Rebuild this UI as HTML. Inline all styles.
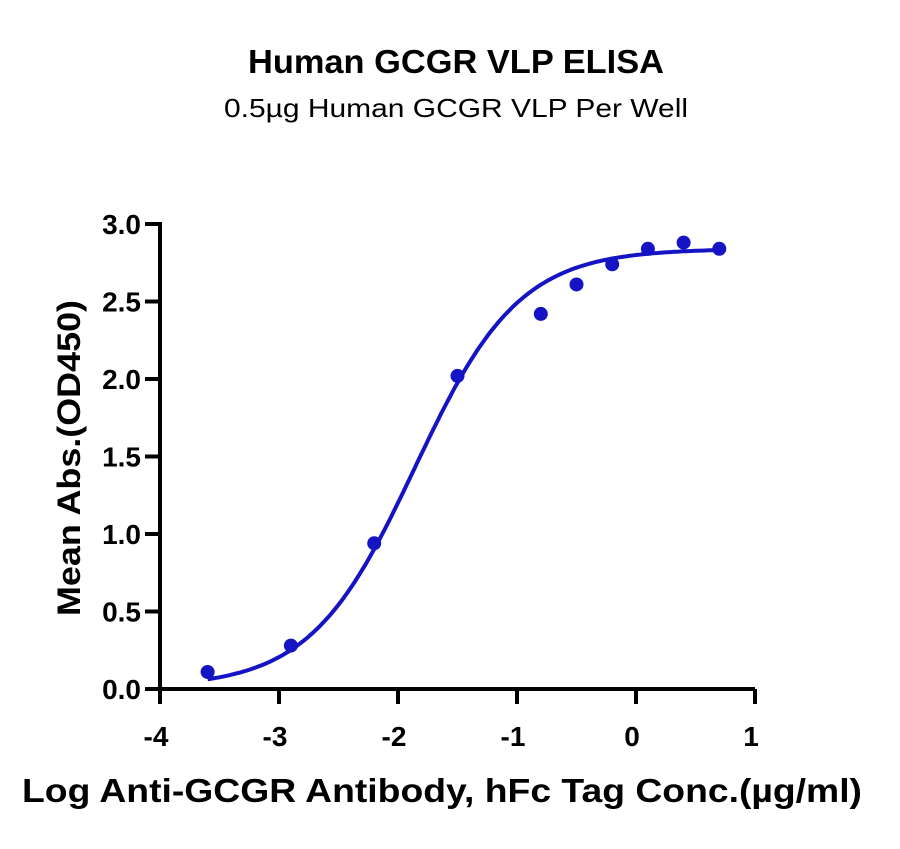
<!DOCTYPE html>
<html><head><style>
body{margin:0;background:#fff;}
svg text{font-family:"Liberation Sans",sans-serif;}
</style></head><body>
<svg id="s" width="900" height="844" xmlns="http://www.w3.org/2000/svg">
<text x="456" y="73" text-anchor="middle" font-size="33" font-weight="bold" fill="#000" textLength="416" lengthAdjust="spacingAndGlyphs">Human GCGR VLP ELISA</text>
<text x="456" y="117" text-anchor="middle" font-size="26" fill="#000" textLength="464" lengthAdjust="spacingAndGlyphs">0.5µg Human GCGR VLP Per Well</text>
<g stroke="#000" stroke-width="4" fill="none">
<line x1="160" y1="222" x2="160" y2="691"/>
<line x1="158" y1="689" x2="755" y2="689"/>
<g id="yt"></g><g id="xt"></g>
</g>
<g id="lab" font-size="28" font-weight="bold" fill="#000"></g>
<text transform="translate(80,458) rotate(-90)" text-anchor="middle" font-size="32" font-weight="bold" textLength="316" lengthAdjust="spacingAndGlyphs">Mean Abs.(OD450)</text>
<text x="442" y="802" text-anchor="middle" font-size="33" font-weight="bold" textLength="840" lengthAdjust="spacingAndGlyphs">Log Anti-GCGR Antibody, hFc Tag Conc.(µg/ml)</text>
<path id="c" fill="none" stroke="#1414c4" stroke-width="4"/>
<g id="p" fill="#1414c4"></g>
</svg>
<script>
var X=function(v){return 160+(v+4)*119},Y=function(v){return 689-v*155};
var ns="http://www.w3.org/2000/svg";
function el(p,t,a,txt){var e=document.createElementNS(ns,t);for(var k in a)e.setAttribute(k,a[k]);if(txt)e.textContent=txt;document.getElementById(p).appendChild(e);}
for(var i=0;i<=6;i++){var v=i*0.5,y=Y(v);el("yt","line",{x1:145,y1:y,x2:160,y2:y});el("lab","text",{x:141,y:y+10,"text-anchor":"end"},v.toFixed(1));}
for(var i=-4;i<=1;i++){var x=X(i);el("xt","line",{x1:x,y1:689,x2:x,y2:704});el("lab","text",{x:x-4,y:746,"text-anchor":"middle"},String(i));}
var d="";for(var x=-3.6;x<=0.701;x+=0.02){var y=0.01+2.83/(1+Math.pow(10,(-1.86-x)*0.99));d+=(d?"L":"M")+X(x).toFixed(1)+","+Y(y).toFixed(1);}
document.getElementById("c").setAttribute("d",d);
[[-3.6,0.11],[-2.9,0.28],[-2.2,0.94],[-1.5,2.02],[-0.8,2.42],[-0.5,2.61],[-0.2,2.74],[0.1,2.84],[0.4,2.88],[0.7,2.84]].forEach(function(p){el("p","circle",{cx:X(p[0]),cy:Y(p[1]),r:7});});
</script>
</body></html>
